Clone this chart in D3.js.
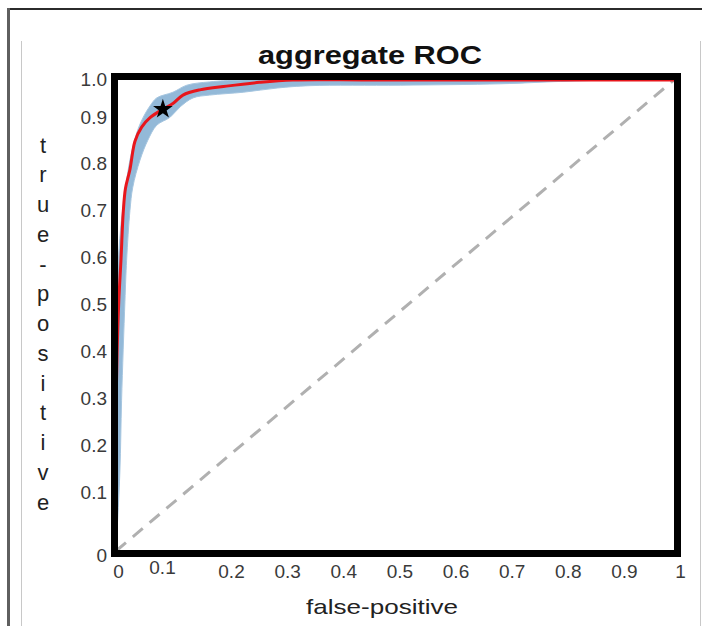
<!DOCTYPE html>
<html>
<head>
<meta charset="utf-8">
<script src="https://cdn.jsdelivr.net/npm/d3@7"></script>
<style>
  body { margin: 0; background: #fff; }
  svg { display: block; font-family: "Liberation Sans", Arial, sans-serif; }
</style>
</head>
<body>
<svg id="vis-container" width="702" height="626"></svg>
<script>
// mean ROC curve
var fpr = [0, 0, 0.002, 0.005, 0.009, 0.013, 0.017, 0.025, 0.034, 0.046, 0.061, 0.084, 0.102, 0.12, 0.15, 0.198, 0.257, 0.317, 0.45, 0.6, 1];
var tpr = [0, 0.28, 0.42, 0.53, 0.62, 0.72, 0.77, 0.81, 0.87, 0.90, 0.92, 0.938, 0.95, 0.968, 0.979, 0.987, 0.995, 1, 1, 1, 1];

// spread band edges
var upperFpr = [0, 0, 0.001, 0.008, 0.016, 0.025, 0.037, 0.048, 0.061, 0.073, 0.102, 0.127, 0.168, 0.228, 1];
var upperTpr = [0, 0.15, 0.53, 0.68, 0.76, 0.83, 0.887, 0.919, 0.945, 0.962, 0.974, 0.989, 0.996, 1, 1];
var lowerFpr = [0, 0.007, 0.01, 0.016, 0.019, 0.025, 0.03, 0.043, 0.057, 0.073, 0.097, 0.115, 0.138, 0.168, 0.228, 0.289, 0.348, 0.51, 0.69, 0.797, 0.9, 1];
var lowerTpr = [0, 0.17, 0.32, 0.53, 0.617, 0.723, 0.772, 0.83, 0.872, 0.904, 0.921, 0.943, 0.962, 0.968, 0.974, 0.983, 0.988, 0.989, 0.992, 0.997, 1, 1];

// operating point
var optFpr = [0.084];
var optTpr = [0.938];

var chance = [0, 1];

var xTicks = [0, 0.1, 0.2, 0.3, 0.4, 0.5, 0.6, 0.7, 0.8, 0.9, 1];
var yTicks = [0, 0.1, 0.2, 0.3, 0.4, 0.5, 0.6, 0.7, 0.8, 0.9, 1];
var yTitle = "true-positive".split("");

var svg = d3.select('#vis-container');

var x = d3.scaleLinear().domain([0, 1]).range([116, 674]);
var y = d3.scaleLinear().domain([0, 1]).range([551, 80]);

// the tick labels in the figure are not evenly spaced near the ends
var xLabel = d3.scaleLinear().domain([0, 0.1, 0.2, 1]).range([118, 162, 231, 680]);
var yLabel = d3.scaleLinear().domain([0, 0.1, 0.9, 1]).range([555, 492, 117, 79]);

// page frame
svg.append("line").attr("x1", 7).attr("x2", 702).attr("y1", 9).attr("y2", 9)
    .style("stroke", "#2b2b2b").style("stroke-width", 2);
svg.append("line").attr("x1", 8.5).attr("x2", 8.5).attr("y1", 8).attr("y2", 626)
    .style("stroke", "#5f5f5f").style("stroke-width", 3);
svg.append("line").attr("x1", 21.5).attr("x2", 21.5).attr("y1", 41).attr("y2", 626)
    .style("stroke", "#c8c8c8").style("stroke-width", 1);
svg.append("line").attr("x1", 700.5).attr("x2", 700.5).attr("y1", 41).attr("y2", 626)
    .style("stroke", "#c8c8c8").style("stroke-width", 1);

var line = d3.line()
    .x(function (d) { return x(d[0]); })
    .y(function (d) { return y(d[1]); })
    .curve(d3.curveCatmullRom.alpha(0.5));

// chance diagonal
svg.append("path")
    .datum(chance.map(function (d) { return [d, d]; }))
    .attr("d", line)
    .style("fill", "none")
    .style("stroke", "#b0b0b0")
    .style("stroke-width", 3)
    .style("stroke-dasharray", "13,9");

// band
var upper = upperFpr.map(function (d, i) { return [d, upperTpr[i]]; });
var lower = lowerFpr.map(function (d, i) { return [d, lowerTpr[i]]; });
svg.append("path")
    .attr("d", line(upper) + "L" + line(lower.slice().reverse()).slice(1) + "Z")
    .style("fill", "#93b9d8")
    .style("stroke", "#a6c6e0")
    .style("stroke-width", 1);

// mean curve
svg.append("path")
    .datum(fpr.map(function (d, i) { return [d, tpr[i]]; }))
    .attr("d", line)
    .style("fill", "none")
    .style("stroke", "#e8161c")
    .style("stroke-width", 3);

svg.selectAll(".opt")
    .data(optFpr)
    .enter().append("path")
    .attr("class", "opt")
    .attr("transform", function (d, i) { return "translate(" + x(d) + "," + y(optTpr[i]) + ")"; })
    .attr("d", d3.symbol().type(d3.symbolStar).size(120))
    .style("fill", "#000");

// plot box
svg.append("rect")
    .attr("x", 114.5).attr("y", 76.5)
    .attr("width", 563).attr("height", 477)
    .style("fill", "none")
    .style("stroke", "#000")
    .style("stroke-width", 7);

var yAxis = svg.append("g")
    .attr("transform", "translate(107,0)")
    .call(d3.axisLeft(yLabel).tickValues(yTicks).tickSize(0).tickPadding(0)
        .tickFormat(function (d) { return d === 0 ? "0" : d3.format(".1f")(d); }));

var xAxis = svg.append("g")
    .attr("transform", "translate(0,564)")
    .call(d3.axisBottom(xLabel).tickValues(xTicks).tickSize(0).tickPadding(0)
        .tickFormat(function (d) { return (d === 0 || d === 1) ? d3.format("d")(d) : d3.format(".1f")(d); }));

svg.selectAll(".domain").remove();
svg.selectAll(".tick text")
    .style("font-family", "'Liberation Sans', Arial, sans-serif")
    .style("font-size", "19px")
    .style("fill", "#3a3a3a");
xAxis.selectAll(".tick text")
    .filter(function (d) { return d === 0.1; })
    .attr("y", -4);

svg.append("text")
    .attr("x", 370).attr("y", 64)
    .attr("text-anchor", "middle")
    .attr("textLength", 224)
    .attr("lengthAdjust", "spacingAndGlyphs")
    .style("font-size", "26px")
    .style("font-weight", "bold")
    .style("fill", "#111")
    .text("aggregate ROC");

svg.append("text")
    .attr("x", 382).attr("y", 614)
    .attr("text-anchor", "middle")
    .attr("textLength", 152)
    .attr("lengthAdjust", "spacingAndGlyphs")
    .style("font-size", "21px")
    .style("fill", "#222")
    .text("false-positive");

var letterY = d3.scalePoint().domain(d3.range(yTitle.length)).range([145, 502]);
svg.selectAll(".ytitle")
    .data(yTitle)
    .enter().append("text")
    .attr("class", "ytitle")
    .attr("x", 43)
    .attr("y", function (d, i) { return letterY(i); })
    .attr("dy", "0.35em")
    .attr("text-anchor", "middle")
    .style("font-size", "22px")
    .style("fill", "#222")
    .text(function (d) { return d; });
</script>
</body>
</html>
